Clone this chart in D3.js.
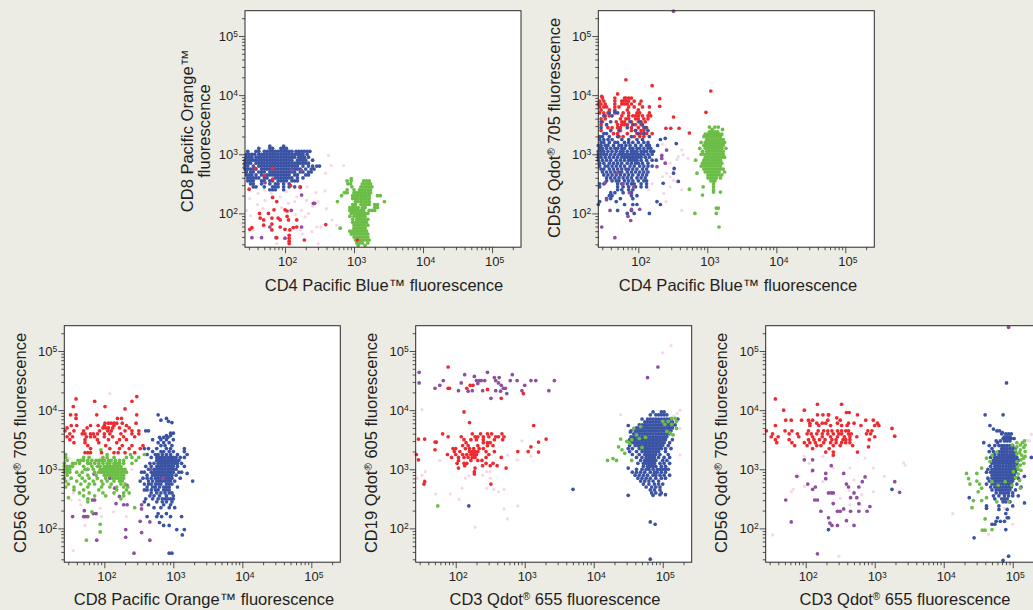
<!DOCTYPE html>
<html>
<head>
<meta charset="utf-8">
<script src="https://cdn.jsdelivr.net/npm/d3@7"></script>
<style>
  html, body { margin: 0; padding: 0; background: #ecebe4; overflow: hidden; }
  svg { display: block; }
  text { font-family: "Liberation Sans", Arial, sans-serif; fill: #231f20; }
  .dots { filter: blur(0.4px); }
</style>
</head>
<body>
<script>
// all values below are log10(fluorescence) x 100
// every row is [y, x, x, x ...]
const p1Blue = [
  [314,178,198],[310,162,178,182,194,198,202],
  [305,146,158,162,170,174,178,182,186,190,194,198,202,206,210,216,220,224,228,232,236],
  [300,144,148,152,156,162,166,170,174,178,182,186,190,194,198,202,206,210,214,218,222,226,232],
  [295,144,148,152,158,162,166,170,174,178,182,186,190,194,198,202,206,210,214,220,224,228,234],
  [290,142,146,150,154,158,162,166,170,174,178,182,186,190,194,198,202,206,210,218,222,226,230,240],
  [285,142,146,150,158,162,166,170,174,178,182,186,190,194,198,202,206,210,214,218,222,226,230,234],
  [280,142,146,154,162,166,170,174,178,182,186,190,194,198,202,206,210,214,218,226,234,240,246,250],
  [275,142,146,150,154,158,166,170,174,178,182,186,190,194,198,202,206,210,214,218,222,230,238,242],
  [270,144,150,154,162,166,170,178,182,186,190,194,198,202,206,210,214,222,226,234,238],
  [265,144,148,152,158,166,174,178,182,186,190,194,198,202,206,214,218,230,234],
  [260,146,150,154,158,162,170,174,186,190,194,198,202,206,210,218,226],
  [255,146,150,154,166,170,178,182,190,194,198,202,210,214,218],
  [250,150,154,166,178,186,190,198,206],
  [245,154,158,170,182,186,190,198,206,214,222],
  [240,178,182,186,198]
];
const p1Green = [
  [259,296],[255,290,296,314,318,322],[250,291,295,312,316,320,324],[245,297,310,314,318,322,326],
  [240,290,300,308,312,316,320,324],[235,286,290,300,304,308,312,316,320,324],
  [230,282,298,302,306,310,314,318,322,334,338],[225,298,302,306,310,314,318,322],
  [220,276,302,306,310,314,318,322,344],[215,298,302,310,314,318,322,330,334],
  [210,294,298,302,306,312,316,330,334],[205,294,298,302,306,310,314,322,326,330],
  [200,296,300,304,308,312,316,320],[195,294,300,304,308,312,316],[190,298,304,308,312,316,320],
  [185,298,302,306,310,314,318],[180,300,304,308,312,316,320],[175,280,300,304,308,312,316],
  [170,294,298,302,306,310,314,318],[165,296,300,304,308,312,316,320],[160,300,304,308,312,316,320],
  [155,302,306,310,314,318,322],[150,304,308,312,320],[146,306,316]
];
const p1Red = [
  [276,157,182],[264,170],[258,182],[247,208],[244,222],[241,148],[227,182],[220,188],[206,184],
  [200,163,176],[206,200],[204,203],[195,203],[192,164,181,190],[189,169,193,205,217],[182,181],
  [180,169],[177,193,217],[176,152,212],[173,149,200],[172,181,207],[163,206],[158,206],[153,206],
  [149,206],[155,228],[181,259],[155,305],[159,188]
];
const p1Purple = [
  [159,152,166,187],[177,178,224],[205,209],[217,241,243],[231,224],[273,210,224],[252,171],[158,200]
];
const p1Pink = [
  [298,263],[281,285,267],[268,259],[238,258],[208,260],[220,248],[225,149],[205,144],[222,171],
  [208,168],[172,154],[228,193],[237,202],[220,214],[228,217],[222,231],[205,224],[200,234],
  [194,229],[177,246],[169,239],[149,248],[189,268],[180,275],[177,252],[149,188],[217,205],
  [234,180],[234,161],[240,170],[215,160],[196,150],[182,136],[210,195],[245,232],[235,245],
  [212,240],[165,225],[198,215],[172,222]
];

const p2Blue = [
  [372,166],[370,158,170],[365,150,162],[355,146,160,188,202],[350,154,192,206],[345,146,184,210],
  [340,160,172,196,214],[335,150,154,200,208],[330,144,148,158,170,190,216],
  [327,239],[325,144,150,156,162,176,186,198,206,232],
  [320,146,150,158,166,170,180,186,192,200,208,214],[318,255],
  [315,142,146,152,156,164,172,176,182,188,196,204,212,216,228],
  [310,144,148,154,160,166,170,176,180,188,192,198,202,208,214,218],
  [305,142,146,150,156,162,168,174,178,184,190,194,198,204,208,212,218,222],
  [300,142,146,150,154,160,166,172,176,180,184,188,192,196,200,204,208,214,220],
  [295,142,146,152,158,164,170,176,180,184,188,192,196,200,204,210,216],
  [290,142,148,154,160,168,174,180,186,190,194,198,204,212,220,226],
  [285,144,150,158,164,170,176,184,190,196,200,206,214],
  [280,144,152,156,162,168,174,180,188,194,202,208,214,220],
  [276,252],[275,146,150,158,164,170,176,182,186,192,198,206,212],
  [270,148,154,160,166,172,176,184,190,196,202,208,214],[268,251],
  [265,150,156,162,168,174,180,186,192,200,206,212],
  [260,154,160,166,172,178,184,190,198,204,210],
  [255,154,162,168,172,180,186,192,200,208,212],[254,258],[251,236],
  [250,144,150,170,176,184,190,194,204,212],[245,144,170,178,186,196,204,212],
  [240,170,176,186,192],[235,160,166,178,190],[230,158,162,190,198],[225,154,160,174,192],
  [220,144,168,227],[215,142,180,192,198,232],[205,170,190],[200,184,194,216]
];
const p2Green = [
  [346,303,311,316],[342,307,322],[338,303,307,311,315],[334,297,301,305,309,313,317,321],
  [330,295,299,303,307,311,315,319],[325,299,303,307,311,315,319,323],
  [320,291,297,301,305,309,313,317,321,325],[315,295,299,303,307,311,315,319,323],
  [310,289,297,301,305,309,313,317,321,327],[305,293,299,303,307,311,315,319,323],
  [300,291,295,299,303,307,311,315,319,323],[295,297,301,305,309,313,317,321,325],
  [290,283,295,299,303,307,311,315,319],[285,293,297,301,305,309,313,317,321],
  [280,291,295,299,303,307,311,315,319],[275,295,299,303,307,311,315,319,323],
  [270,297,301,305,309,313,317,325],[268,285],[265,301,305,309,313,317,321],[260,301,305,309,313,319],
  [255,305,309,311],[250,309],[245,309,294],[241,274],[240,309],[236,309,319],[231,293],
  [209,313,316],[200,282,313],[177,317]
];
const p2Red = [
  [426,182],[416,220],[407,305],[402,170],[398,147],[394,231],[381,231],[371,298],[363,251],
  [344,240,247,259],[336,274],
  [395,148,166,180,182,186,190],[390,144,150,166,176,178,182,186,194,204],
  [385,142,146,152,166,176,180,184,190,202],[380,144,150,154,166,172,186,194,206,216],
  [375,146,158,166,184,200],[370,144,150,156,166,178,186,198,202,216],
  [365,152,158,176,186,192,196,200,206,214,218],[360,146,152,174,182,186,196,200,208,214],
  [355,148,168,176,180,190,200,204,210],[350,146,170,176,180,184,196,204],
  [345,156,162,170,174,190,200,208,212],[340,146,174,190,196,204,208],
  [335,164,170,184,198,204,212,220],[330,172,178,194,202,208]
];
const p2Purple = [
  [542,251],[177,147],[159,166],[205,159],[223,154],[195,185],[207,190],[188,189],[207,202],
  [235,187],[245,193],[268,169],[293,234],[285,239],[279,227],[307,241],[298,234],[250,178],[252,152]
];
const p2Pink = [
  [317,235],[307,263],[299,265],[293,272],[262,246],[256,251],[268,241],[262,235],[254,256],
  [240,263],[205,263],[234,237],[245,246],[255,169],[223,192],[257,159],[285,246],[291,256],
  [273,251],[285,239],[250,220],[220,240],[296,258],[240,215]
];

const p3Blue = [
  [392,278],[386,290],[383,282],[381,293],[379,298],[365,260,264],[361,296,300],[357,290,296],
  [354,280,286,292],[350,270,282,290,300],[345,278,286,294],[340,282,288,298],
  [335,258,264,276,290,296,316],[330,270,282,286,294,300,316],[325,262,274,278,284,290,296,306,320],
  [320,268,276,280,284,288,292,296,300,304,310,316],[315,276,280,284,288,292,296,300,304,308],
  [310,266,272,278,282,286,290,294,298,302,306,312],[305,260,268,276,280,284,288,292,296,300,306,316],
  [300,264,272,276,280,284,288,292,296,300,304],[295,254,258,268,272,276,280,284,288,292,296,300,308,312],
  [290,262,270,274,278,282,286,290,294,298,304],[293,320],[285,256,262,268,274,278,282,286,290,294,298,310],
  [280,252,264,270,276,280,284,288,292,296,302,328],[275,258,264,268,274,278,282,290,294,298],
  [270,262,270,274,280,286,290,294,306],[265,258,262,268,274,278,286,290,294],
  [260,268,276,282,288,294,298],[255,266,272,280,290,300],[250,260,270,278,284,288,292,296,300],
  [245,258,276,284,290,298],[240,264,286,296],[235,272,282,294,302],[225,278,290],
  [220,262,276,283,296,312],[210,280],[205,286,294],[198,305,316],[189,313],[158,294,298]
];
const p3Green = [
  [333,195],[325,144,204,238,258],[320,144,170,178,198,204,214,232,240,250],
  [315,146,162,166,170,176,182,188,192,196,200,206,210,216,222,228,246],
  [310,142,154,158,164,176,180,186,192,198,204,208,214,218,222,228,240],
  [305,142,146,150,154,170,182,190,194,200,204,208,212,216,220,224],
  [300,142,146,150,172,176,184,194,198,202,206,210,214,218,222,226,230],
  [295,142,146,150,160,168,186,192,196,200,204,208,212,216,220,224,228,232],
  [290,146,164,176,188,200,204,208,212,216,220,224,228],[285,142,152,168,178,190,202,212,216,220,224,228],
  [280,144,160,172,184,196,204,214,222,226],[275,148,166,178,186,198,210,224,230],
  [270,144,156,176,196,208,218,228,234],[265,156,170,192,218,232],[260,164,178,198,214,228,236],
  [255,170,186,202,228],[252,148],[250,176,224],[245,176],[235,244],[228,182],[207,194],[194,194],[180,174]
];
const p3Red = [
  [423,247],[415,240],[419,159],[406,155],[415,186],[406,201],[402,230],[392,151,159,189,247],
  [386,159,219,225],[378,201,206,210,214,218,226,246],[374,152,160,180,191,200,214,232],
  [370,146,175,198,202,206,212,222,236],[365,143,156,170,193,205,210,230,240,250],
  [360,150,168,172,180,184,190,200,208,224,240,250],[355,146,154,174,180,186,200,212,228,244],
  [350,150,172,190,206,222,232],[345,156,172,192,218],[340,176,202,226,240,256],
  [335,180,208,222,236,252],[328,172,176,180,196,214,220,230,244]
];
const p3Purple = [
  [220,154,170,173,176],[230,171],[225,184,188],[248,183,186],[180,189],[158,243],[198,231],[185,231],
  [193,254],[180,266],[212,252],[242,217],[240,228,233],[254,222],[268,215],[273,233],[285,208],
  [240,254],[233,254],[211,266],[292,185],[300,176],[285,285],[300,267]
];
const p3Pink = [
  [428,208],[162,155],[228,213],[234,194],[240,166],[248,152],[248,164],[285,142],[282,149],
  [282,189],[305,194],[297,174],[297,149],[276,145],[250,178],[220,196],[220,232],[297,213],
  [319,149],[319,194],[260,155],[270,142],[300,240],[205,172]
];

const p4Blue = [
  [397,486,498,502],[392,482,490,494,498,502,506],[385,470,478,482,486,490,494,498,502,506,510,522],
  [380,474,478,482,486,490,494,498,502,506,510,514],[375,466,470,474,478,482,486,490,494,498,502,506,510,514,518],
  [374,450],[370,462,466,470,474,478,482,486,490,494,498,502,506,510,514],
  [365,454,460,464,468,472,476,480,484,488,492,496,500,504,508,512],[363,453],
  [360,458,462,466,470,474,478,482,486,490,494,498,502,506,510],
  [355,454,458,462,466,470,474,478,482,486,490,494,498,502,506],
  [350,452,456,460,464,468,472,476,480,484,488,492,496,500,504,514],
  [345,454,458,462,466,470,474,478,482,486,490,494,498,502,510],
  [340,452,460,464,468,472,476,480,484,488,492,496,500,508],
  [335,450,456,466,470,474,478,482,486,490,494,498,504,512],
  [330,452,462,470,474,478,482,486,490,494,504],[325,456,466,474,478,482,486,490,496,508],
  [320,462,470,476,480,484,488,494,502,510],[315,468,474,478,482,486,490,500,506],
  [310,464,472,476,480,484,488,496,502,510],[305,472,478,482,486,490,498,504],
  [302,450],[300,462,470,476,480,486,492,496,500,504,508],[295,456,462,468,474,482,488,492,498,504],
  [290,460,466,472,478,486,490,496,502,510],[285,464,470,476,482,490,498,504],
  [280,468,474,480,486,494],[275,472,480,488,494,500],[270,476,484,490,496],
  [266,370],[265,482,488,496],[260,484,490,498],[257,496,504],[256,450,486],[238,219],
  [211,482],[207,489],[148,482]
];
const p4Green = [
  [238,174],[315,420,433],[318,428],[351,439],[338,436],[333,441],[347,448],[350,455],[344,452],
  [315,455],[327,445],[358,462],[369,458],[364,506],[361,511],[358,515],[386,513],[386,518],
  [381,520],[381,508],[376,513],[376,503],[369,520],[381,500],[372,468],[352,466],[354,475],[337,470]
];
const p4Red = [
  [473,189],[397,212],[379,220],[437,189,191],[437,216],[442,221],[442,225],[420,266],[428,298],
  [435,246],[275,154],[279,155],[275,251],[374,313],[351,331],[346,320],[329,320],[338,309],
  [325,143],[316,146],[351,146,155],[346,170,172],[333,170],
  [360,181,224,236,246,252,267],[355,189,208,228,232,240,248,258,262,270],
  [350,212,222,230,240,256,268],[345,215,240,246,250],[340,210,218,232,246,254],
  [335,196,200,214,220,226,234,240],[330,198,206,220,224,228,232,244,256,290,305],
  [325,188,200,210,216,222,226,230,248],[320,194,204,212,218,224,228,244,266],
  [315,204,222,232,238],[310,202,212,216,244,254],[306,213,239,250,260],[302,204,228,273],
  [296,227],[292,227]
];
const p4Purple = [
  [464,147],[446,147],[437,170],[442,177],[450,182],[433,204],[446,208],[460,213],[432,218],[433,224],
  [457,227],[450,230,234,237],[445,232],[433,239],[450,242],[464,246],[420,251],[450,258],
  [455,256,263],[433,258],[446,262],[442,266],[437,269,272],[432,265],[428,274],[460,282],
  [450,279,289],[433,296],[442,300],[450,309,316],[433,335],[450,343],[455,478],[473,493]
];
const p4Pink = [
  [509,512],[497,500],[401,151],[392,439],[400,525],[394,521],[390,516],[384,519],[369,525],
  [324,525],[336,512],[315,507],[296,156],[290,151],[285,144],[282,155],[258,171],[258,192],
  [249,205],[268,209],[285,214],[289,219],[290,239],[296,245],[285,250],[296,250],[268,245],
  [266,255],[262,262],[266,270],[233,270],[216,275],[238,290],[202,228],[315,177],[348,296],
  [324,275],[316,289],[310,255],[322,309]
];

const p5Blue = [
  [446,491],[392,460],[392,486],[374,467],[368,472],[365,477,481],[362,485],[360,484,490,494,498],
  [355,488,492,496],[352,486,490,494,498,502],[348,476,482,488,492,496],[345,458,478],
  [340,466,474,480,484,488,492,496,500],[335,470,484,488,492,496,500,504],
  [330,466,472,480,484,488,492,496,500,504],[325,474,480,484,488,492,496,500,504],
  [320,468,474,478,482,486,490,494,498,502,506,527],[315,472,476,480,484,488,492,496,500,504,508],
  [310,470,474,478,482,486,490,494,498,502,506],[305,468,474,478,482,486,490,494,498,502,506],
  [300,464,470,474,478,482,486,490,494,498,502,506],[295,462,468,472,476,480,484,488,492,496,500,504],
  [290,470,474,478,482,486,490,494,498,502],[288,517],[285,464,470,474,478,482,486,490,494,498,502,508],
  [280,466,472,476,480,484,488,492,496,500],[275,462,470,474,478,482,486,490,494,498,506],
  [270,468,474,478,482,486,490,494,498,512],[266,325],[265,470,476,480,484,488,492,496,504],
  [260,476,482,486,490,494,500],[255,472,480,488,494,500,508],[252,437],[250,474,484,488,492],
  [245,486,490,496],[243,517],[238,462,480,500],[234,462],[232,480,492],[225,490],
  [218,478,492,494],[212,476,482,488],[207,470,474],[198,233,490],[184,444],[153,494],[146,486]
];
const p5Green = [
  [293,433],[284,436],[275,438],[293,448],[302,455],[280,448],[275,452],[268,455],[262,450],
  [247,455],[235,441],[247,443],[216,460],[197,456,460],[198,470],[319,462],[324,470],[313,467],
  [329,477],[348,517],[341,511],[333,511],[324,513],[313,506],[307,511],[296,501],[341,518],
  [330,518],[319,516],[268,511],[273,499],[279,489],[273,479],[279,470],[245,477],[245,494],
  [252,462],[341,499],[345,506],[300,508],[345,514],[337,516],[328,510],[322,518],[316,512],
  [310,516],[304,507],[298,512],[292,508],[286,504],[281,510],[338,506],[332,504],[326,506]
];
const p5Red = [
  [419,156],[410,217],[410,252],[400,168],[400,198],[396,259],[396,263],[392,233],[392,275],
  [392,217,225,233],[387,245],[383,171,179,194,204,210,232,250,287,298],
  [378,206,216,224,229,246,262,270,304],[374,156,206,219,236,252,260,280,300,306],
  [369,325],[365,143,170,180,204,218,226,232,238,246,252,258,262,290,296],
  [360,152,176,188,202,208,216,224,232,240,248,252,262,266,288,294],
  [356,329],[355,150,160,190,210,224,236,246,256,264,274,300],
  [350,156,176,204,212,220,228,238,244,254,258,264,292],
  [345,158,180,198,206,214,226,236,244,252,258,264],[340,184,202,216,222,240,250,268],
  [338,291],[335,210,234],[329,229,240,275],[324,240]
];
const p5Purple = [
  [316,198,210],[298,210],[306,237],[293,229],[284,229],[288,187],[211,179],[248,171],[275,203],
  [266,210],[270,214],[248,213,217],[229,222],[260,233,237,240],[242,240],[218,233],[209,235],
  [205,238],[205,246],[229,246,250],[293,255],[275,259],[270,262],[233,255],[213,259],
  [252,265],[252,274],[260,270],[242,277],[229,265,277],[205,270],[270,277],[279,282],[287,286],
  [237,293],[229,289],[279,329],[261,336],[157,217],[540,494]
];
const p5Pink = [
  [189,152],[153,248],[225,413],[311,342],[307,344],[288,314],[302,298],[262,298],[319,286],
  [257,281],[302,264],[282,270],[240,279],[240,264],[251,250],[243,239],[279,225],[296,209],
  [310,205],[271,198],[288,190],[262,179],[266,182],[322,198],[322,225],[322,239],[264,263],
  [302,240],[234,488],[349,521],[348,524],[359,527],[285,513],[207,500],[190,465]
];

const xTitles = ['CD4 Pacific Blue™ fluorescence', 'CD4 Pacific Blue™ fluorescence', 'CD8 Pacific Orange™ fluorescence'];
const decades = [100, 1000, 10000, 100000];
const minorTicks = [30, 40, 50, 60, 70, 80, 90, 200, 300, 400, 500, 600, 700, 800, 900,
  2000, 3000, 4000, 5000, 6000, 7000, 8000, 9000, 20000, 30000, 40000, 50000, 60000, 70000, 80000, 90000, 200000];

const colors = { pink: '#f6d6e8', blue: '#3a53a4', green: '#6bbd45', purple: '#8e4f9f', red: '#ee2a31' };

const width = 1033, height = 610;
const panelW = 276, panelH = 236.5;

const panels = [
  { left: 245, top: 10.7, series: { pink: p1Pink, blue: p1Blue, green: p1Green, purple: p1Purple, red: p1Red },
    xTitle: [xTitles[0]], xMid: 384, xBase: 291,
    yTitle: [['CD8 Pacific Orange™'], ['fluorescence']], yX: [193, 210], yMid: 131 },
  { left: 598.3, top: 10.7, series: { pink: p2Pink, red: p2Red, blue: p2Blue, green: p2Green, purple: p2Purple },
    xTitle: [xTitles[1]], xMid: 738, xBase: 291,
    yTitle: [['CD56 Qdot', '®', ' 705 fluorescence']], yX: [560], yMid: 128 },
  { left: 64.3, top: 325.7, series: { pink: p3Pink, blue: p3Blue, purple: p3Purple, green: p3Green, red: p3Red },
    xTitle: [xTitles[2]], xMid: 204, xBase: 605,
    yTitle: [['CD56 Qdot', '®', ' 705 fluorescence']], yX: [26], yMid: 443 },
  { left: 415.7, top: 325.7, series: { pink: p4Pink, red: p4Red, purple: p4Purple, blue: p4Blue, green: p4Green },
    xTitle: ['CD3 Qdot', '®', ' 655 fluorescence'], xMid: 555, xBase: 605,
    yTitle: [['CD19 Qdot', '®', ' 605 fluorescence']], yX: [377], yMid: 443 },
  { left: 765.7, top: 325.7, series: { pink: p5Pink, red: p5Red, purple: p5Purple, blue: p5Blue, green: p5Green },
    xTitle: ['CD3 Qdot', '®', ' 655 fluorescence'], xMid: 905, xBase: 605,
    yTitle: [['CD56 Qdot', '®', ' 705 fluorescence']], yX: [727], yMid: 443 }
];

const toPoints = rows => rows.flatMap(([y, ...xs]) => xs.map(x => [10 ** (x / 100), 10 ** (y / 100)]));

// title text with a raised registered mark
function titleText(sel, parts) {
  sel.append('tspan').text(parts[0]);
  if (parts.length > 1) {
    sel.append('tspan').attr('dy', -5.5).attr('font-size', 10).text(parts[1]);
    sel.append('tspan').attr('dy', 5.5).text(parts[2]);
  }
}

function powers(g) {
  g.selectAll('.tick text').each(function(d) {
    const t = d3.select(this).text('10');
    t.append('tspan').attr('dy', '-0.45em').attr('font-size', 8.5).text(Math.round(Math.log10(d)));
  });
}

const svg = d3.select('body').append('svg').attr('width', width).attr('height', height);

panels.forEach(p => {
  const x = d3.scaleLog().domain([26.3, 263000]).range([0, panelW]);
  const y = d3.scaleLog().domain([26.8, 268000]).range([panelH, 0]);
  const g = svg.append('g').attr('transform', `translate(${p.left},${p.top})`);

  g.append('rect').attr('width', panelW).attr('height', panelH).attr('fill', '#fff');

  const dots = g.append('g').attr('class', 'dots');
  Object.entries(p.series).forEach(([name, rows]) => {
    dots.selectAll(null).data(toPoints(rows)).enter().append('circle')
      .attr('cx', d => x(d[0]))
      .attr('cy', d => y(d[1]))
      .attr('r', name === 'pink' ? 1.6 : 1.85)
      .attr('fill', colors[name]);
  });

  g.append('rect').attr('width', panelW).attr('height', panelH)
    .attr('fill', 'none').attr('stroke', '#2b2a29').attr('stroke-width', 1);

  const xMinor = g.append('g').attr('transform', `translate(0,${panelH})`)
    .call(d3.axisBottom(x).tickValues(minorTicks).tickSize(3).tickFormat(''));
  const xMajor = g.append('g').attr('transform', `translate(0,${panelH})`)
    .call(d3.axisBottom(x).tickValues(decades).tickSize(6).tickPadding(4));
  xMajor.selectAll('.tick text').attr('x', 2).attr('font-size', 13);
  xMajor.call(powers);

  const yMinor = g.append('g')
    .call(d3.axisLeft(y).tickValues(minorTicks).tickSize(3).tickFormat(''));
  const yMajor = g.append('g')
    .call(d3.axisLeft(y).tickValues(decades).tickSize(6).tickPadding(1));
  yMajor.selectAll('.tick text').attr('font-size', 13);
  yMajor.call(powers);

  [xMinor, xMajor, yMinor, yMajor].forEach(a => {
    a.select('.domain').remove();
    a.selectAll('.tick line').attr('stroke', '#2b2a29').attr('stroke-width', 0.8);
    a.selectAll('.tick text').attr('font-family', null);
  });

  svg.append('text').attr('x', p.xMid).attr('y', p.xBase)
    .attr('text-anchor', 'middle').attr('font-size', 16.5)
    .call(titleText, p.xTitle);

  p.yTitle.forEach((parts, i) => {
    svg.append('text')
      .attr('transform', `translate(${p.yX[i]},${p.yMid}) rotate(-90)`)
      .attr('text-anchor', 'middle').attr('font-size', 16.5)
      .call(titleText, parts);
  });
});
</script>
</body>
</html>
